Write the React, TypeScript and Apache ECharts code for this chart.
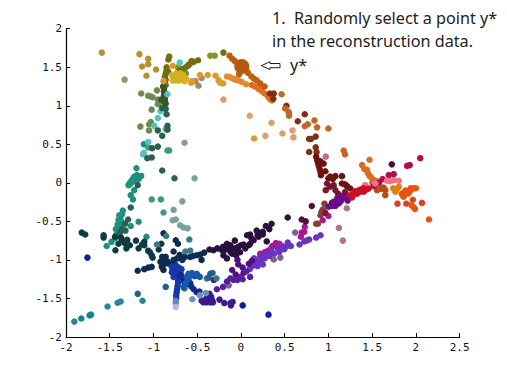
import React, { useEffect, useRef } from "react";
import * as echarts from "echarts";

type P = [number, number];
const xTicks = { min: -2, max: 2.5, interval: 0.5 };
const yTicks = { min: -2, max: 2, interval: 0.5 };
const titleLines = ["1.  Randomly select a point y*", "in the reconstruction data."];
const pointerLabel = "y*";

const goldOuter: P[] = [[-1.59,1.69],[-1.16,1.67],[-1.06,1.61],[-1.06,1.54],[-1.13,1.51],[-0.97,1.47],[-1.08,1.39],[-0.6,1.52]];
const tanOuter: P[] = [[-1.33,1.34],[-0.485,1.26],[-0.52,1.32],[-0.45,1.36]];
const leafGreen: P[] = [[-1.14,1.16],[-0.96,1.2],[-1.06,1.13],[-1.03,1.12],[-1.01,1.11],[-0.95,1.08],[-0.95,1.02],[-1.02,0.95],[-1.03,0.79],[-1.05,0.76],[-1.15,0.73],[-1.05,0.68],[-0.63,1.42]];
const darkMoss: P[] = [[-0.88,1.22],[-0.88,1.19],[-0.87,1.16],[-0.88,1.13],[-0.87,1.1],[-0.87,1.07],[-0.88,1.05],[-0.86,1.03],[-0.89,1.25],[-0.91,1.08]];
const olive: P[] = [[-0.82,1.64],[-0.83,1.6],[-0.85,1.5],[-0.85,1.46],[-0.86,1.42],[-0.87,1.38],[-0.86,1.34],[-0.87,1.3],[-0.86,1.27],[-0.66,1.48],[-0.63,1.5],[-0.6,1.53],[-0.565,1.58],[-0.54,1.57],[-0.49,1.59],[-0.7,1.46],[-0.73,1.42],[-0.2,1.69],[-0.83,1.44]];
const brightOlive: P[] = [[-0.35,1.65],[-0.3,1.65],[-0.66,1.45],[-0.72,1.5],[-0.58,1.55]];
const yellow: P[] = [[-0.75,1.35],[-0.78,1.33],[-0.72,1.33],[-0.76,1.38],[-0.73,1.37],[-0.7,1.35],[-0.79,1.4],[-0.74,1.42],[-0.645,1.32],[-0.63,1.35],[-0.73,1.38],[-0.69,1.42],[-0.66,1.4],[-0.75,1.33],[-0.71,1.33],[-0.64,1.36],[-0.68,1.39]];
const amber: P[] = [[-0.885,1.32],[-0.78,1.52],[-0.57,1.3],[-0.56,1.32],[-0.255,1.33],[-0.237,1.3],[-0.205,1.29],[-0.47,1.4],[-0.38,1.4],[-0.29,1.39],[0.15,0.575]];
const orangeBand: P[] = [[-0.16,1.38],[-0.12,1.37],[-0.09,1.35],[-0.065,1.34],[-0.03,1.33],[0.01,1.31],[0.06,1.28],[-0.05,1.35]];
const lowerBand: P[] = [[0.125,1.27],[0.16,1.25],[0.2,1.22],[0.24,1.19],[0.27,1.16],[0.31,1.12],[0.355,1.07],[0.33,1.09],[0.22,1.21]];
const paleOrange: P[] = [[-0.2,1.08],[0.1,0.87],[0.28,0.61],[0.35,0.78],[0.475,0.64],[0.6,0.59],[0.59,0.68]];
const rustStreak: P[] = [[-0.13,1.65],[-0.1,1.61],[-0.07,1.58],[-0.04,1.55],[0.05,1.47],[0.08,1.43],[0.12,1.38],[0.15,1.35],[0.18,1.33],[0.22,1.29],[-0.02,1.41],[0.27,1.25]];
const selected: P[] = [[0.01,1.51]];
const umber: P[] = [[0.375,1.16],[0.33,1.16],[0.37,1.09],[0.52,1.0],[0.73,0.89],[0.65,0.8],[0.855,0.6],[0.78,0.57],[0.8,0.57],[0.855,0.46],[0.78,0.4],[0.865,0.4]];
const copper: P[] = [[0.465,1.15],[0.505,0.965],[0.545,0.92],[0.55,0.87],[0.55,0.9],[0.84,0.81],[0.765,0.76],[0.73,0.735],[0.87,0.72],[1.0,0.705],[1.175,0.42],[1.19,0.37]];
const dustyRose: P[] = [[0.97,0.34],[1.21,-0.33],[1.12,-0.585],[1.165,-0.75]];
const deepMaroon: P[] = [[0.86,0.34],[0.87,0.3],[0.88,0.26],[0.89,0.22],[0.9,0.18],[0.91,0.14],[0.915,0.1],[0.945,0.25],[0.965,0.15],[0.91,0.28],[1.02,0.08],[1.08,0.087],[1.155,0.087],[1.05,0.05],[1.155,-0.008],[1.213,-0.043],[1.25,-0.073],[1.0,0.06],[1.19,-0.02]];
const orangeTrail: P[] = [[1.47,0.3],[1.385,0.23],[1.41,0.18],[1.45,0.13],[1.47,0.09],[1.52,0.035],[1.5,0.0],[1.56,0.02],[1.44,0.17],[1.49,0.07]];
const flameOrange: P[] = [[1.97,-0.07],[1.94,-0.07],[1.9,-0.116],[1.98,-0.07],[2.0,-0.07],[1.84,-0.14],[1.86,-0.18],[1.88,-0.1],[1.85,-0.16],[1.91,-0.14],[1.93,-0.11],[1.95,-0.29],[1.97,-0.31],[1.99,-0.34],[2.15,-0.475]];
const sienna: P[] = [[1.556,-0.095],[1.65,-0.095],[1.65,-0.16],[1.6,-0.08],[1.63,-0.06]];
const tangerine: P[] = [[1.805,-0.05],[1.766,-0.116],[1.74,-0.07],[1.78,-0.08]];
const vermilion: P[] = [[1.965,-0.22],[1.79,-0.27],[1.89,-0.27],[2.07,-0.26]];
const plum: P[] = [[1.725,0.24],[0.81,-0.3],[1.04,-0.26],[0.695,-0.475],[0.74,-0.5]];
const crimson: P[] = [[1.9,0.22],[1.93,0.23],[2.05,0.32],[1.69,0.1],[1.747,0.113],[1.62,0.05],[1.58,0.0],[1.52,-0.04],[1.56,-0.01]];
const pink: P[] = [[1.805,0.027],[1.747,0.035],[1.67,0.027],[1.537,-0.008],[1.42,-0.03],[1.71,0.02]];
const scarlet: P[] = [[1.25,-0.16],[1.29,-0.15],[1.327,-0.14],[1.366,-0.116],[1.404,-0.116],[1.366,-0.086],[1.46,-0.073],[1.43,-0.09],[1.3,-0.11],[1.34,-0.1],[1.4,-0.07],[1.27,-0.19]];
const wine: P[] = [[0.984,-0.008],[1.06,-0.03],[1.08,-0.094],[1.02,-0.05],[1.11,-0.14],[1.19,-0.12],[1.22,-0.17],[1.16,-0.17],[0.965,-0.39],[0.97,-0.095]];
const brownRose: P[] = [[0.955,-0.27],[0.91,-0.42],[0.935,-0.345],[0.92,-0.38],[0.86,-0.53],[0.88,-0.53]];
const violetMagenta: P[] = [[1.0,-0.31],[1.06,-0.246],[1.117,-0.268],[1.08,-0.3],[1.14,-0.24],[1.175,-0.2],[1.2,-0.18],[1.22,-0.23],[1.1,-0.2],[1.15,-0.18],[1.04,-0.3],[1.23,-0.2]];
const magenta: P[] = [[1.0,-0.43],[0.935,-0.485],[0.695,-0.645],[0.725,-0.635],[0.685,-0.7],[0.73,-0.57],[0.44,-0.79],[0.4,-0.78],[0.345,-0.85],[0.27,-0.9],[0.22,-0.92],[0.31,-0.88],[0.36,-0.82]];
const mauve: P[] = [[0.62,-0.645],[0.45,-0.97],[0.375,-0.995],[-0.14,-1.33]];
const brightViolet: P[] = [[0.91,-0.68],[0.86,-0.71],[0.78,-0.735],[0.75,-0.75],[0.725,-0.76],[0.535,-0.775],[0.57,-0.82],[0.495,-0.86],[0.44,-0.895],[0.38,-0.92],[0.325,-0.95],[0.27,-0.98],[0.23,-1.0],[0.19,-1.03],[0.145,-1.07],[0.25,-1.06],[0.67,-0.8],[0.53,-0.82],[0.16,-1.0],[0.22,-0.96],[0.1,-1.12],[0.13,-1.04],[0.15,-0.98],[0.19,-1.08],[0.12,-1.08],[0.28,-0.93],[0.35,-0.89],[0.42,-0.85],[0.47,-0.82]];
const nightPurple: P[] = [[0.535,-0.45],[0.35,-0.53],[0.285,-0.56],[0.325,-0.6],[0.25,-0.635],[0.19,-0.68],[0.18,-0.62],[0.295,-0.76],[0.22,-0.65],[0.145,-0.745],[0.105,-0.79],[0.09,-0.81],[0.05,-0.85],[0.0,-0.81],[-0.03,-0.83],[-0.065,-0.85],[0.07,-0.68],[0.105,-0.67],[-0.07,-0.75],[-0.12,-0.81],[-0.16,-0.79],[-0.205,-0.83],[-0.19,-0.875],[-0.12,-0.895],[-0.16,-0.98],[-0.055,-0.94],[-0.27,-0.85],[-0.315,-0.875],[-0.36,-0.865],[-0.14,-0.86],[-0.17,-0.85],[-0.1,-0.85],[-0.1,-0.92],[-0.22,-0.87],[-0.2,-0.94],[-0.04,-0.88],[0.03,-0.8],[0.12,-0.72],[0.2,-0.7],[0.25,-0.67],[-0.01,-0.9]];
const deepViolet: P[] = [[-0.04,-1.0],[-0.03,-1.06],[-0.1,-1.13],[-0.06,-1.19],[0.02,-1.1],[0.09,-1.05],[0.125,-1.01],[0.03,-1.17],[-0.31,-1.26]];
const royalPurple: P[] = [[-0.12,-1.24],[-0.16,-1.28],[-0.205,-1.35],[-0.275,-1.38],[-0.04,-1.26],[-0.085,-1.26],[0.105,-1.22],[0.0,-1.22],[0.06,-1.15],[0.02,-1.25]];
const indigo: P[] = [[-0.45,-1.53],[-0.43,-1.55],[-0.41,-1.52],[-0.39,-1.55],[-0.37,-1.52],[-0.35,-1.55],[-0.33,-1.52],[-0.32,-1.55],[-0.34,-1.48],[-0.36,-1.44],[-0.39,-1.49],[-0.245,-1.515],[-0.19,-1.56],[-0.12,-1.56],[-0.095,-1.545],[-0.115,-1.59]];
const cobalt: P[] = [[0.315,-1.71],[0.02,-1.59],[-1.755,-0.97]];
const teal: P[] = [[-1.22,-0.095],[-1.26,-0.16],[-1.235,-0.215],[-1.285,-0.03],[-1.26,-0.01],[-1.24,0.03],[-1.19,0.1],[-1.22,0.08],[-1.14,0.09],[-1.2,0.02],[-1.17,0.05],[-1.195,0.19],[-1.25,0.03],[-1.27,0.0],[-1.23,0.06],[-1.11,0.5],[-1.35,-0.36],[-1.36,-0.41],[-1.38,-0.46],[-1.39,-0.42],[-1.37,-0.5],[-1.4,-0.48],[-1.39,-0.55],[-1.41,-0.54],[-1.4,-0.6],[-1.43,-0.6],[-1.38,-0.6],[-1.42,-0.66],[-1.4,-0.66],[-1.535,-0.82],[-1.48,-0.765],[-1.44,-0.72],[-1.26,-0.56],[-1.17,-0.505],[-1.08,-0.7]];
const seafoam: P[] = [[-1.02,-0.215],[-0.915,-0.215],[-0.885,-0.385],[-1.06,0.46],[-0.84,0.42],[-0.82,0.42]];
const greyTeal: P[] = [[-0.77,-0.35],[-0.78,-0.485],[-0.745,-0.475],[-0.67,-0.24],[-0.695,-0.55],[-0.655,-0.58],[-0.61,-0.59],[-0.86,0.7],[-0.645,0.52],[-0.53,0.06]];
const cyan: P[] = [[-0.92,0.93],[-0.95,0.84],[-0.99,0.74],[-1.06,0.53],[-1.11,0.39],[-1.12,0.37],[-0.84,1.15],[-0.7,1.56]];
const pineDark: P[] = [[-0.9,0.97],[-0.86,0.96],[-0.85,0.89],[-0.95,0.68],[-0.84,0.74],[-0.84,0.69],[-0.9,0.61],[-1.015,0.45],[-0.95,0.47],[-1.07,0.32],[-1.02,0.33],[-0.9,0.16],[-0.76,0.06],[-1.18,-0.03],[-1.26,-0.32],[-1.29,-0.475],[-1.325,-0.53],[-1.36,-0.6],[-1.32,-0.62],[-1.38,-0.64]];
const blackTeal: P[] = [[-1.82,-0.645],[-1.78,-0.67],[-1.57,-0.68],[-1.57,-0.71],[-1.44,-0.7],[-1.36,-0.74],[-1.3,-0.74],[-1.2,-0.75],[-1.31,-0.85],[-1.27,-0.81],[-1.105,-0.765],[-1.17,-0.85],[-1.105,-0.81],[-1.06,-0.88],[-1.02,-0.94],[-1.01,-0.97],[-0.91,-0.79],[-0.94,-0.865],[-1.435,-0.875],[-1.33,-0.78],[-1.4,-0.79],[-1.13,-0.8],[-1.37,-0.71],[-1.04,-0.9]];
const navy: P[] = [[-0.745,-0.745],[-0.72,-0.79],[-0.77,-0.89],[-0.7,-0.935],[-0.64,-0.96],[-0.86,-0.96],[-0.9,-0.96],[-0.92,-1.025],[-0.84,-1.02],[-1.18,-1.14],[-1.105,-1.12],[-1.06,-1.1],[-1.02,-1.09],[-0.905,-1.09],[-0.885,-1.13],[-0.77,-1.0],[-0.73,-0.98],[-0.75,-1.06],[-0.505,-0.94],[-0.465,-0.93],[-0.42,-0.905],[-0.45,-1.0],[-0.82,-1.05],[-0.67,-1.0],[-0.885,-0.655],[-0.87,-1.0],[-0.88,-1.06],[-0.78,-1.04],[-0.58,-0.96],[-0.55,-0.95]];
const steelTeal: P[] = [[-0.96,-0.8],[-0.855,-0.69],[-0.59,-0.735],[-0.58,-0.88],[-0.635,-0.89],[-0.645,-1.37],[-0.39,-1.24],[-0.28,-1.24]];
const slateBlue: P[] = [[-0.35,-1.18],[-0.325,-1.17],[-0.37,-1.23],[-0.86,-1.35],[-1.18,-1.44]];
const blueStreak: P[] = [[-0.74,-1.5],[-0.74,-1.46],[-0.735,-1.42],[-0.73,-1.38],[-0.725,-1.34],[-0.72,-1.3],[-0.72,-1.26],[-0.715,-1.2],[-0.715,-1.16],[-0.71,-1.1],[-0.76,-1.13],[-0.78,-1.12],[-0.68,-1.12],[-0.74,-1.15],[-0.79,-1.16],[-0.79,-1.09],[-0.74,-1.08],[-0.76,-1.18],[-0.69,-1.17],[-0.72,-1.23],[-0.77,-1.22]];
const streakTip: P[] = [[-0.745,-1.61]];
const streakFade: P[] = [[-0.745,-1.56],[-0.745,-1.53]];
const darkBlueDiag: P[] = [[-0.69,-1.2],[-0.66,-1.23],[-0.63,-1.27],[-0.6,-1.31],[-0.57,-1.34],[-0.54,-1.38],[-0.505,-1.42],[-0.475,-1.41],[-0.65,-1.28],[-0.58,-1.3]];
const skyBranch: P[] = [[-0.655,-1.35],[-0.63,-1.3],[-0.6,-1.25],[-0.57,-1.2],[-0.505,-1.18],[-0.56,-1.17],[-0.47,-1.22],[-0.53,-1.21],[-0.6,-1.18],[-0.62,-1.22],[-0.5,-1.2]];
const fadedBlue: P[] = [[-0.555,-1.51],[-0.47,-1.46],[-0.4,-1.43]];
const oceanFar: P[] = [[-1.125,-1.53],[-1.525,-1.605],[-1.41,-1.555],[-1.375,-1.54],[-1.905,-1.8]];
const deepCyan: P[] = [[-1.73,-1.72],[-1.715,-1.71],[-1.825,-1.76]];

const groups: [P[], string][] = [
  [goldOuter,"#b3922f"],[tanOuter,"#a58a68"],[leafGreen,"#6f8a50"],[brightOlive,"#7f9a22"],[olive,"#736f10"],[darkMoss,"#355826"],
  [amber,"#dc9a2c"],[yellow,"#d2b01e"],[orangeBand,"#e48a2c"],[paleOrange,"#dca070"],[lowerBand,"#e0701c"],[rustStreak,"#bd5e12"],[selected,"#b85a0c"],
  [umber,"#7c3212"],[copper,"#c0682a"],[dustyRose,"#b87088"],[brownRose,"#83403a"],[magenta,"#a81890"],[deepMaroon,"#6e140e"],[orangeTrail,"#dc6a20"],[vermilion,"#d24628"],[flameOrange,"#e65410"],[tangerine,"#e08010"],[sienna,"#bc4a18"],
  [plum,"#4e1034"],[crimson,"#b01048"],[pink,"#ee7288"],[wine,"#7c1630"],[violetMagenta,"#6a0c88"],[scarlet,"#cc1024"],
  [mauve,"#806090"],[brightViolet,"#6a34c0"],[nightPurple,"#2a1040"],[deepViolet,"#501080"],[royalPurple,"#5420a0"],[indigo,"#3f1890"],[cobalt,"#141f98"],
  [teal,"#20907e"],[seafoam,"#3f9880"],[greyTeal,"#7ca09a"],[cyan,"#52c4c0"],[pineDark,"#2a5f52"],[blackTeal,"#0f3a44"],[navy,"#102a52"],[steelTeal,"#3a7a84"],
  [slateBlue,"#20608e"],[blueStreak,"#1838a8"],[streakFade,"#6a84cc"],[streakTip,"#b0bce6"],[darkBlueDiag,"#102890"],[skyBranch,"#1858a8"],[fadedBlue,"#6c94ba"],[oceanFar,"#2a84a2"],[deepCyan,"#108494"],
];

export default function App() {
  const ref = useRef<HTMLDivElement>(null);
  useEffect(() => {
    const chart = echarts.init(ref.current!, undefined, { renderer: "svg" });
    const axisBase = {
      type: "value" as const,
      splitLine: { show: false },
      axisLine: { show: true, onZero: false, lineStyle: { color: "#000", width: 1.2 } },
      axisTick: { inside: true, length: 4, lineStyle: { color: "#000" } },
      axisLabel: { color: "#111", fontFamily: "'DejaVu Sans Mono'", fontSize: 11, showMinLabel: true, showMaxLabel: true, hideOverlap: false },
    };
    const titleText = titleLines.map((t, i) => ({
      type: "text", x: 272, y: 10 + i * 23,
      style: { text: t, fill: "#222", font: "16.2px 'Noto Sans'" },
    }));
    chart.setOption({
      animation: false,
      backgroundColor: "#fff",
      grid: { left: 66, top: 28.7, width: 393.6, height: 308.3, containLabel: false },
      xAxis: { ...axisBase, ...xTicks, axisLabel: { ...axisBase.axisLabel, margin: 5, formatter: (v: number) => String(v) } },
      yAxis: { ...axisBase, ...yTicks, axisLabel: { ...axisBase.axisLabel, margin: 4, formatter: (v: number) => String(v) } },
      series: groups.map(([pts, color]) => ({
        type: "scatter",
        data: pts,
        symbol: "circle",
        symbolSize: pts === selected ? 15 : 6.5,
        itemStyle: { color, opacity: 1 },
        silent: true,
      })),
      graphic: [
        ...titleText,
        { type: "text", x: 290, y: 57, style: { text: pointerLabel, fill: "#222", font: "16.2px 'Noto Sans'" } },
        { type: "polygon", shape: { points: [[261.3,65.7],[270,61.7],[270,63.5],[280,63.5],[280,67.7],[270,67.7],[270,69.5]] }, style: { fill: "#fff", stroke: "#222", lineWidth: 1 } },
      ],
    });
    return () => chart.dispose();
  }, []);
  return <div ref={ref} style={{ position: "absolute", left: 0, top: 0, width: 507, height: 379 }} />;
}
